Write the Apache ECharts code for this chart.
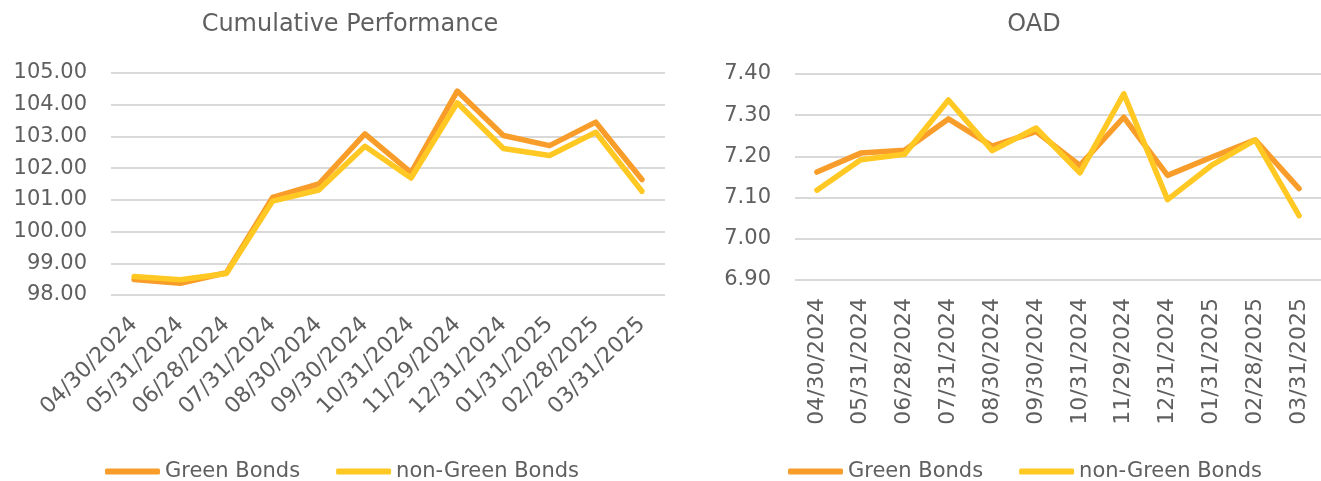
<!DOCTYPE html>
<html>
<head>
<meta charset="utf-8">
<script src="https://cdn.jsdelivr.net/npm/echarts@6/dist/echarts.min.js"></script>
<style>
html,body{margin:0;padding:0;background:#fff;}
#c{width:1321px;height:481px;}
</style>
</head>
<body>
<div id="c"></div>
<script>
const categories = ["04/30/2024","05/31/2024","06/28/2024","07/31/2024","08/30/2024","09/30/2024","10/31/2024","11/29/2024","12/31/2024","01/31/2025","02/28/2025","03/31/2025"];
const perfGreen = [98.49, 98.37, 98.70, 101.08, 101.50, 103.08, 101.86, 104.43, 103.03, 102.71, 103.45, 101.64];
const perfNonGreen = [98.58, 98.48, 98.68, 100.96, 101.31, 102.69, 101.69, 104.06, 102.62, 102.40, 103.13, 101.27];
const oadGreen = [7.162, 7.208, 7.215, 7.291, 7.225, 7.260, 7.178, 7.295, 7.154, 7.198, 7.240, 7.122];
const oadNonGreen = [7.118, 7.192, 7.205, 7.337, 7.214, 7.269, 7.160, 7.352, 7.095, 7.178, 7.240, 7.056];
const perfTicks = {min: 98, max: 105, interval: 1};
const oadTicks = {min: 6.9, max: 7.4, interval: 0.1};

const FONT = "DejaVu Sans";
const TXT = "#5f5f5f";
const ORANGE = "#F99D2A";
const YELLOW = "#FFC823";

const chart = echarts.init(document.getElementById('c'));
function yAxis(idx, t){
  return {
    type: 'value', gridIndex: idx, min: t.min, max: t.max, interval: t.interval,
    axisLine: {show: false}, axisTick: {show: false},
    axisLabel: {color: TXT, fontFamily: FONT, fontSize: 21, margin: 24, formatter: v => v.toFixed(2)},
    splitLine: {lineStyle: {color: '#D9D9D9', width: 2}}
  };
}
function xAxis(idx, rot, margin){
  return {
    type: 'category', gridIndex: idx, data: categories, boundaryGap: true,
    axisLine: {show: false}, axisTick: {show: false},
    axisLabel: {color: TXT, fontFamily: FONT, fontSize: 22, rotate: rot, margin: margin, interval: 0}
  };
}
function line(name, data, color, idx){
  return {
    type: 'line', name: name, data: data, xAxisIndex: idx, yAxisIndex: idx,
    symbol: 'none', showSymbol: false, smooth: false,
    lineStyle: {color: color, width: 5.5, cap: 'round', join: 'round'},
    itemStyle: {color: color}
  };
}
const legendCommon = {
  icon: 'roundRect', itemWidth: 55, itemHeight: 6, itemGap: 36,
  textStyle: {color: TXT, fontFamily: FONT, fontSize: 21, padding: [0,0,0,0]},
  data: ['Green Bonds', 'non-Green Bonds']
};
chart.setOption({
  animation: false,
  title: [
    {text: 'Cumulative Performance', left: 345, top: 8, textAlign: 'center',
     textStyle: {color: TXT, fontFamily: FONT, fontSize: 24, fontWeight: 'normal'}},
    {text: 'OAD', left: 1029, top: 8, textAlign: 'center',
     textStyle: {color: TXT, fontFamily: FONT, fontSize: 24, fontWeight: 'normal'}}
  ],
  legend: [
    Object.assign({left: 100, top: 456}, legendCommon),
    Object.assign({left: 783, top: 456}, legendCommon)
  ],
  grid: [
    {left: 111, top: 73, width: 554, height: 222},
    {left: 795, top: 74, width: 526, height: 206}
  ],
  xAxis: [xAxis(0, 45, 26), xAxis(1, 90, 18)],
  yAxis: [yAxis(0, perfTicks), yAxis(1, oadTicks)],
  series: [
    line('Green Bonds', perfGreen, ORANGE, 0),
    line('non-Green Bonds', perfNonGreen, YELLOW, 0),
    line('Green Bonds', oadGreen, ORANGE, 1),
    line('non-Green Bonds', oadNonGreen, YELLOW, 1)
  ]
});
</script>
</body>
</html>
